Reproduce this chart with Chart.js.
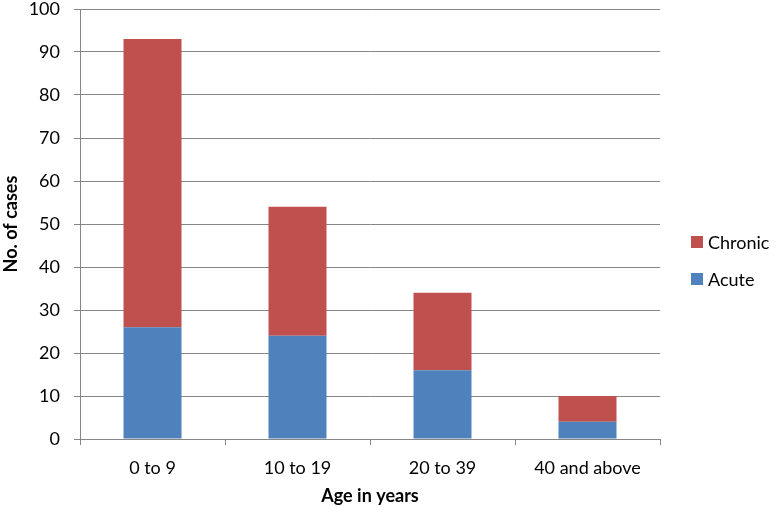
<!DOCTYPE html>
<html>
<head>
<meta charset="utf-8">
<script src="https://cdn.jsdelivr.net/npm/chart.js@4.4.0/dist/chart.umd.min.js"></script>
<style>
  html, body { margin: 0; padding: 0; background: #fff; }
  #wrap { width: 776px; height: 510px; }
</style>
</head>
<body>
<div id="wrap"><canvas id="casesChart"></canvas></div>
<script>
const ageGroups = ['0 to 9', '10 to 19', '20 to 39', '40 and above'];
const acuteCases = [26, 24, 16, 4];
const chronicCases = [67, 30, 18, 6];
const yTicks = { min: 0, max: 100, step: 10 };

const gridGray = '#868686';
const fontFamily = 'Lato, "Open Sans", sans-serif';

// legend drawn by hand, Excel style: square + label, stacked top-down in reverse order
const sideLegend = {
    id: 'sideLegend',
    afterDraw(chart) {
        const ctx = chart.ctx;
        const area = chart.chartArea;
        const sets = chart.data.datasets.slice().reverse();
        ctx.save();
        ctx.font = '18px ' + fontFamily;
        ctx.textBaseline = 'middle';
        sets.forEach((ds, i) => {
            const y = 242 + i * 37;
            const x = area.right + 31;
            ctx.fillStyle = ds.backgroundColor;
            ctx.fillRect(x, y - 6, 12, 12);
            ctx.fillStyle = '#000';
            ctx.fillText(ds.label, x + 17, y + 1);
        });
        ctx.restore();
    }
};

const ctx = document.getElementById('casesChart').getContext('2d');

new Chart(ctx, {
    type: 'bar',
    data: {
        labels: ageGroups,
        datasets: [
            {
                label: 'Acute',
                data: acuteCases,
                backgroundColor: '#4F81BD',
                categoryPercentage: 1,
                barPercentage: 0.4
            },
            {
                label: 'Chronic',
                data: chronicCases,
                backgroundColor: '#C0504D',
                categoryPercentage: 1,
                barPercentage: 0.4
            }
        ]
    },
    options: {
        responsive: true,
        maintainAspectRatio: false,
        animation: false,
        layout: {
            padding: { top: 9, right: 116, bottom: 0, left: 0 }
        },
        scales: {
            x: {
                stacked: true,
                border: { color: gridGray, width: 1 },
                grid: {
                    drawOnChartArea: false,
                    drawTicks: true,
                    tickLength: 6,
                    color: gridGray
                },
                ticks: {
                    color: '#000',
                    padding: 12,
                    font: { family: fontFamily, size: 18 }
                },
                title: {
                    display: true,
                    text: 'Age in years',
                    color: '#000',
                    padding: { top: 4, bottom: 3 },
                    font: { family: fontFamily, size: 18, weight: 'bold' }
                },
                afterFit(scale) {
                    scale.height = 71;
                }
            },
            y: {
                stacked: true,
                min: yTicks.min,
                max: yTicks.max,
                border: { color: gridGray, width: 1 },
                grid: {
                    color: gridGray,
                    tickLength: 6
                },
                ticks: {
                    stepSize: yTicks.step,
                    color: '#000',
                    padding: 14,
                    font: { family: fontFamily, size: 18 }
                },
                title: {
                    display: true,
                    text: 'No. of cases',
                    color: '#000',
                    padding: { top: 0, bottom: 0 },
                    font: { family: fontFamily, size: 18, weight: 'bold' }
                },
                afterFit(scale) {
                    scale.width = 80;
                    scale.paddingTop = 0;
                    scale.paddingBottom = 0;
                }
            }
        },
        plugins: {
            legend: { display: false },
            tooltip: { enabled: false }
        }
    },
    plugins: [sideLegend]
});
</script>
</body>
</html>
